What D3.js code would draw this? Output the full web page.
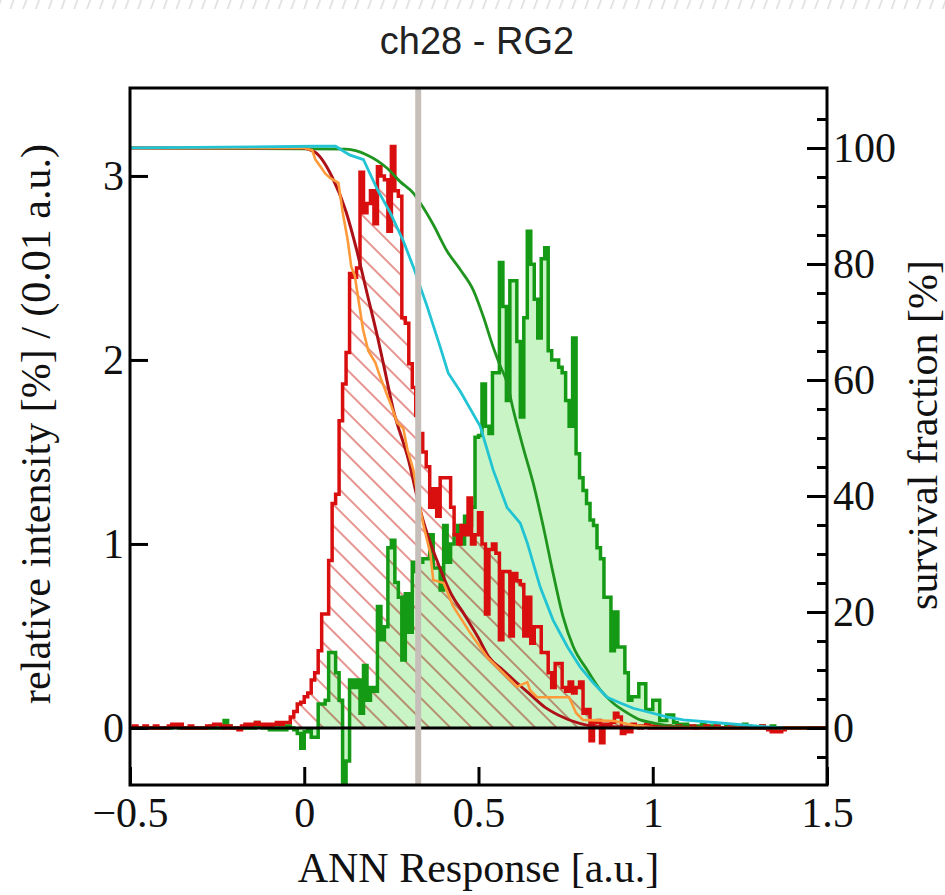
<!DOCTYPE html>
<html><head><meta charset="utf-8">
<script src="https://cdn.jsdelivr.net/npm/d3@7"></script>
<style>body{margin:0;background:#fff} svg{display:block}</style>
</head><body>
<svg id="c" width="945" height="895"></svg>
<script>
// ---------- data ----------
const binStart = -0.5, binWidth = 0.01;
const redHist = [
 0.00,0.01,0.00,0.00,0.01,0.00,0.00,0.01,0.00,0.00,
 0.00,0.01,0.02,0.01,0.02,0.00,0.00,0.01,0.00,0.00,
 0.00,0.00,0.01,0.01,0.02,0.02,0.01,0.00,0.01,0.00,
 0.00,-0.01,0.01,0.02,0.01,0.02,0.03,0.02,0.01,0.02,
 0.01,0.02,0.03,0.02,0.03,0.03,0.06,0.09,0.13,0.14,
 0.17,0.19,0.26,0.30,0.42,0.62,0.62,0.91,1.22,1.27,
 1.67,1.87,2.04,2.47,2.45,2.50,3.02,2.80,2.85,2.92,
 2.74,3.05,3.00,2.98,2.70,3.16,2.92,2.89,2.23,2.20,
 1.98,1.85,1.70,1.60,1.50,1.42,1.20,1.30,1.15,1.36,
 1.36,1.36,1.20,1.05,1.00,1.10,1.05,1.25,1.00,1.05,
 1.17,1.00,0.62,0.97,1.00,0.95,0.48,0.85,0.85,0.50,
 0.84,0.80,0.78,0.50,0.71,0.46,0.55,0.55,0.41,0.41,
 0.30,0.22,0.35,0.35,0.22,0.20,0.25,0.19,0.22,0.25,
 0.08,0.10,-0.07,0.03,0.04,-0.08,0.02,0.02,0.03,0.08,
 0.06,-0.03,0.00,-0.02,0.02,0.01,0.00,0.01,0.02,0.00,
 0.01,0.00,0.01,0.00,0.01,0.00,0.00,0.01,0.00,0.00,
 0.00,0.01,0.00,0.00,0.00,0.01,0.00,0.00,0.01,0.00,
 0.00,0.00,0.01,0.00,0.00,0.00,0.00,0.01,0.00,0.00,
 0.00,0.01,0.00,-0.01,-0.02,0.00,-0.02,-0.01,0.00,0.00,
 0.00,0.00,0.00,0.00,0.00,0.00,0.00,0.00,0.00,0.00
];
const greenHist = [
 0.00,0.00,0.00,0.00,0.00,0.00,0.00,0.00,0.00,0.00,
 0.00,0.00,0.01,0.01,0.00,0.00,0.00,0.00,0.00,0.00,
 0.00,0.00,0.00,0.01,0.00,0.00,0.00,0.04,0.01,0.00,
 0.00,0.00,0.00,0.01,0.00,0.00,0.03,0.01,0.00,0.00,
 -0.01,0.00,-0.01,0.00,-0.01,0.01,0.00,-0.01,-0.03,-0.11,
 -0.02,-0.01,-0.05,-0.05,0.13,0.13,0.15,0.41,0.41,0.30,
 0.15,-0.45,-0.18,0.26,0.22,0.26,0.08,0.34,0.15,0.22,
 0.20,0.66,0.48,0.55,0.98,1.02,0.79,0.71,0.37,0.73,
 0.52,0.90,0.85,0.90,0.92,0.92,1.05,0.87,0.87,0.75,
 1.10,0.90,1.00,1.05,1.10,1.00,1.15,1.10,1.20,1.58,
 1.59,1.87,1.64,1.60,1.93,1.93,2.53,2.29,1.78,2.43,
 2.43,2.10,1.69,2.23,2.70,2.52,2.33,2.12,2.55,2.61,
 2.05,2.00,2.00,1.96,1.93,1.78,1.64,2.12,1.49,1.36,
 1.29,1.22,1.13,1.10,0.98,0.92,0.71,0.71,0.42,0.63,
 0.44,0.44,0.30,0.15,0.17,0.17,0.24,0.24,0.10,0.10,
 0.15,0.15,0.04,0.04,0.07,0.07,0.03,0.02,0.01,0.02,
 0.01,0.01,0.00,0.01,0.02,0.01,0.00,0.01,0.01,0.00,
 0.00,0.01,0.00,0.01,0.00,0.00,0.02,0.01,0.00,0.00,
 0.00,0.01,0.00,0.00,0.01,0.00,0.00,0.00,0.00,0.00,
 0.00,0.00,0.00,0.00,0.00,0.00,0.00,0.00,0.00,0.00
];
// survival fractions [%] : [ANN response, percent]
const survGreen = [[-0.5,100],[0.12,99.8],[0.18,98.8],[0.238,96.5],[0.275,94.2],[0.313,92.2],[0.333,90.5],[0.37,86.8],[0.41,82.2],[0.448,79],[0.485,75.5],[0.514,70.9],[0.542,65.7],[0.562,62.5],[0.582,59.5],[0.6,54.8],[0.628,48.4],[0.657,42.2],[0.686,34.7],[0.714,26.7],[0.743,19.1],[0.772,14],[0.812,10],[0.849,6.6],[0.886,4.3],[0.927,2.6],[0.964,1.4],[1.0,0.9],[1.06,0.3],[1.15,0.05],[1.45,0]];
const survCyan = [[-0.5,100],[0.03,100.3],[0.09,100.3],[0.13,98.8],[0.17,98],[0.21,92.8],[0.247,88.8],[0.284,84],[0.313,79.5],[0.353,72.6],[0.39,65.7],[0.413,61.2],[0.448,58],[0.505,52],[0.542,44.5],[0.582,38],[0.62,35.3],[0.64,31.9],[0.677,24.3],[0.714,18.6],[0.755,14],[0.792,10.5],[0.829,7.8],[0.869,5.3],[0.907,4.3],[0.944,3.4],[0.984,2.8],[1.04,1.9],[1.088,1.4],[1.185,0.9],[1.328,0.2],[1.374,0]];
const survDarkRed = [[-0.5,100],[-0.01,100],[0.03,99.3],[0.08,95],[0.12,89],[0.15,82.5],[0.18,75],[0.21,67.5],[0.23,62],[0.255,55],[0.3,46],[0.325,39.5],[0.34,36],[0.38,29],[0.42,23.3],[0.46,19.5],[0.5,15.5],[0.53,12.2],[0.57,10],[0.61,7.8],[0.65,5.7],[0.69,3.6],[0.73,2.2],[0.79,0.8],[0.85,0.2],[1.45,0]];
const survOrange = [[-0.5,100],[0.0,100],[0.023,99.6],[0.032,98],[0.05,96.5],[0.06,95.6],[0.075,94.8],[0.098,94],[0.11,89],[0.125,84],[0.135,79.5],[0.145,78],[0.155,74],[0.169,68.6],[0.184,65],[0.204,63],[0.218,60.5],[0.247,56],[0.267,52.6],[0.284,51.7],[0.296,48],[0.313,44.5],[0.324,40.5],[0.342,35],[0.362,30],[0.37,25.5],[0.4,25],[0.427,21],[0.476,16.4],[0.525,12.2],[0.571,9.5],[0.611,7.1],[0.64,7.9],[0.648,6.5],[0.668,5.3],[0.76,5.3],[0.78,2.6],[0.8,1.4],[0.89,1.2],[0.95,0.4],[1.0,0.1],[1.45,0]];
const cutValue = 0.327;
const xTicks = [-0.5, 0, 0.5, 1, 1.5];
const yLeftTicks = [0, 1, 2, 3];
const yRightTicks = [0, 20, 40, 60, 80, 100];
const yRightMinor = [-5,5,10,15,25,30,35,45,50,55,65,70,75,85,90,95,105];
const title = "ch28 - RG2";
const xLabel = "ANN Response [a.u.]";
const yLeftLabel = "relative intensity [%] / (0.01 a.u.)";
const yRightLabel = "survival fraction [%]";

// ---------- layout ----------
const L = 130, R = 827, T = 88, B = 785;
const svg = d3.select("#c");
const x = d3.scaleLinear().domain([-0.5, 1.5]).range([L, R]);
const yL = d3.scaleLinear().domain([-0.31, 3.478]).range([B, T]);
const yR = d3.scaleLinear().domain([-9.83, 110.34]).range([B, T]);
const serif = "'Liberation Serif','Times New Roman',serif";

const defs = svg.append("defs");
defs.append("clipPath").attr("id","plot").append("rect")
  .attr("x",L).attr("y",T).attr("width",R-L).attr("height",B-T);
const hp = defs.append("pattern").attr("id","hatch").attr("patternUnits","userSpaceOnUse")
  .attr("width",15).attr("height",15).attr("patternTransform","rotate(45)");
hp.append("line").attr("x1",0).attr("y1",1).attr("x2",15).attr("y2",1)
  .attr("stroke","#e07a74").attr("stroke-width",1.6);
const tp = defs.append("pattern").attr("id","topstripe").attr("patternUnits","userSpaceOnUse")
  .attr("width",12).attr("height",12).attr("patternTransform","rotate(20)");
tp.append("line").attr("x1",0).attr("y1",0).attr("x2",0).attr("y2",12)
  .attr("stroke","#dcdcdc").attr("stroke-width",3);
svg.append("rect").attr("x",0).attr("y",0).attr("width",945).attr("height",9).attr("fill","url(#topstripe)");

// ---------- histograms ----------
const toBins = arr => { const b = arr.map((v,i)=>({x: binStart + i*binWidth, v})); b.push({x: binStart + arr.length*binWidth, v: arr[arr.length-1]}); return b; };
const redBins = toBins(redHist), greenBins = toBins(greenHist);
const area = d3.area().curve(d3.curveStepAfter).x(d=>x(d.x)).y0(yL(0)).y1(d=>yL(d.v));
const stepLine = d3.line().curve(d3.curveStepAfter).x(d=>x(d.x)).y(d=>yL(d.v));

const g = svg.append("g").attr("clip-path","url(#plot)");
g.append("path").datum(greenBins).attr("d",area).attr("fill","#c9f5c6");
g.append("path").datum(redBins).attr("d",area).attr("fill","url(#hatch)").style("mix-blend-mode","multiply");
g.append("path").datum(greenBins).attr("d",stepLine).attr("fill","none")
  .attr("stroke","#149a14").attr("stroke-width",3.5);
g.append("path").datum(redBins).attr("d",stepLine).attr("fill","none")
  .attr("stroke","#d90f0f").attr("stroke-width",3.5);

// ---------- survival curves ----------
const smooth = d3.line().curve(d3.curveMonotoneX).x(d=>x(d[0])).y(d=>yR(d[1]));
const lin = d3.line().x(d=>x(d[0])).y(d=>yR(d[1]));
g.append("path").datum(survGreen).attr("d",smooth).attr("fill","none").attr("stroke","#1f951f").attr("stroke-width",2.8);
g.append("path").datum(survDarkRed).attr("d",smooth).attr("fill","none").attr("stroke","#ad1016").attr("stroke-width",3);
g.append("path").datum(survOrange).attr("d",lin).attr("fill","none").attr("stroke","#ff9a3a").attr("stroke-width",2.6);
g.append("path").datum(survCyan).attr("d",lin).attr("fill","none").attr("stroke","#22c4d4").attr("stroke-width",2.8);

// zero line
svg.append("line").attr("x1",L).attr("x2",R).attr("y1",yL(0)).attr("y2",yL(0))
  .attr("stroke","#000").attr("stroke-width",3);
// cut line
svg.append("line").attr("x1",x(cutValue)).attr("x2",x(cutValue)).attr("y1",T).attr("y2",B)
  .attr("stroke","#c6beb8").attr("stroke-width",6);

// ---------- axes ----------
const fmt = d => (d < 0 ? "\u2212" : "") + String(Math.abs(d));
function styleAxis(sel){
  sel.select(".domain").remove();
  sel.selectAll(".tick line").attr("stroke","#000").attr("stroke-width",3);
  sel.selectAll(".tick text").attr("font-family",serif).attr("font-size",42).attr("fill","#111");
}
svg.append("g").attr("transform",`translate(0,${B})`)
  .call(d3.axisBottom(x).tickValues(xTicks).tickSize(-18).tickPadding(12).tickFormat(fmt))
  .call(styleAxis);
svg.append("g").attr("transform",`translate(${L},0)`)
  .call(d3.axisLeft(yL).tickValues(yLeftTicks).tickSize(-18).tickPadding(6).tickFormat(fmt))
  .call(styleAxis);
svg.append("g").attr("transform",`translate(${R},0)`)
  .call(d3.axisRight(yR).tickValues(yRightTicks).tickSize(-20).tickPadding(6).tickFormat(fmt))
  .call(styleAxis);
svg.append("g").attr("transform",`translate(${R},0)`)
  .call(d3.axisRight(yR).tickValues(yRightMinor).tickSize(-10).tickFormat(""))
  .call(styleAxis);

// frame
svg.append("rect").attr("x",L).attr("y",T).attr("width",R-L).attr("height",B-T)
  .attr("fill","none").attr("stroke","#000").attr("stroke-width",3);

// ---------- texts ----------
svg.append("text").attr("x",477).attr("y",54).attr("text-anchor","middle")
  .attr("font-family","'Liberation Sans',Arial,sans-serif").attr("font-size",38).attr("fill","#222").text(title);
svg.append("text").attr("x",(L+R)/2).attr("y",882).attr("text-anchor","middle")
  .attr("font-family",serif).attr("font-size",42).attr("fill","#111").text(xLabel);
svg.append("text").attr("transform","translate(50,424) rotate(-90)").attr("text-anchor","middle")
  .attr("font-family",serif).attr("font-size",42).attr("fill","#111").text(yLeftLabel);
svg.append("text").attr("transform","translate(937,435) rotate(-90)").attr("text-anchor","middle")
  .attr("font-family",serif).attr("font-size",42).attr("fill","#111").text(yRightLabel);
</script>
</body></html>
